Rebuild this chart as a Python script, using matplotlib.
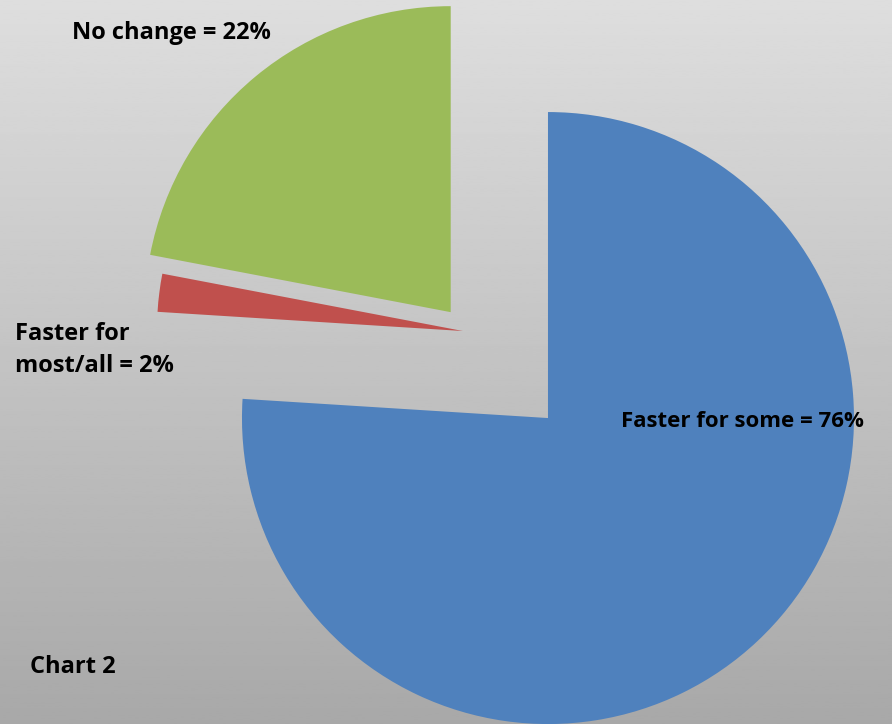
import numpy as np
import matplotlib
matplotlib.use("Agg")
import matplotlib.pyplot as plt

# slice data (clockwise from 12 o'clock)
categories = ["Faster for some", "Faster for\nmost/all", "No change"]
shares = [76, 2, 22]
colors = ["#4F81BD", "#C0504D", "#9BBB59"]
explode = [0.388, 0.0124, 0.082]

W, H = 892, 724
scale = 306.0          # pixels per pie radius
cx, cy = 466.7, 331.5  # pie centre in pixels (from top-left)

fig = plt.figure(figsize=(W / 100, H / 100), dpi=100)

# gray gradient background, light at top, darker at bottom
bg = fig.add_axes([0, 0, 1, 1])
grad = np.linspace(0.87, 0.66, 256).reshape(-1, 1)
bg.imshow(grad, extent=[0, 1, 0, 1], aspect="auto", cmap="gray",
          vmin=0, vmax=1, origin="upper")
bg.axis("off")
bg.set_xlim(0, 1)
bg.set_ylim(0, 1)

ax = fig.add_axes([0, 0, 1, 1])
ax.patch.set_alpha(0)
ax.pie(shares, colors=colors, explode=explode, startangle=90,
       counterclock=False, radius=1, wedgeprops=dict(linewidth=0))
ax.set_aspect("auto")
ax.set_xlim(-cx / scale, (W - cx) / scale)
ax.set_ylim(-(H - cy) / scale, cy / scale)
ax.axis("off")

font = dict(family=["Open Sans", "DejaVu Sans"], weight="bold", size=17, color="black")

def put(text, x, y, **kw):
    fig.text(x / W, 1 - y / H, text, ha="left", va="baseline", **{**font, **kw})

put(f"{categories[2]} = {shares[2]}%", 72, 39)
put("Faster for", 15, 340)
put(f"most/all = {shares[1]}%", 15, 372)
put(f"{categories[0]} = {shares[0]}%", 621, 427, size=16)
put("Chart 2", 30, 673)

fig.savefig("out.png", dpi=100)
